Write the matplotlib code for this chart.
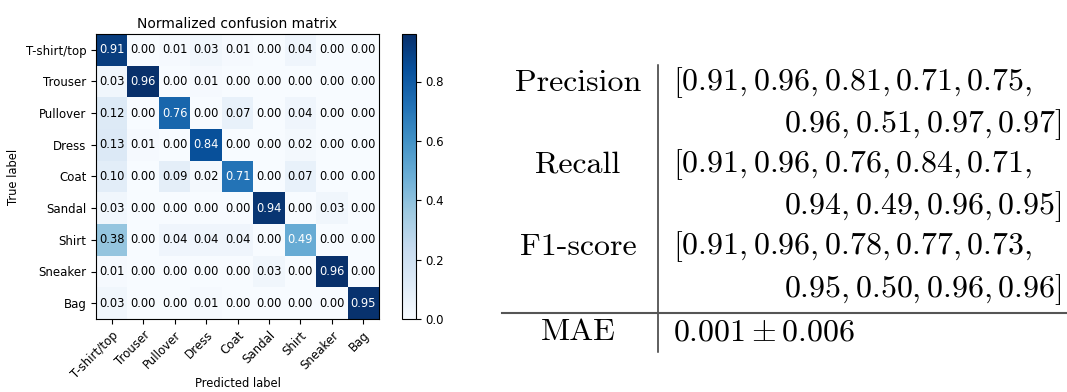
import numpy as np
import matplotlib
matplotlib.use('Agg')
import matplotlib.pyplot as plt
from matplotlib.lines import Line2D

CLASSES = ['T-shirt/top', 'Trouser', 'Pullover', 'Dress', 'Coat',
           'Sandal', 'Shirt', 'Sneaker', 'Bag']

CM = np.array([
    [0.91, 0.00, 0.01, 0.03, 0.01, 0.00, 0.04, 0.00, 0.00],
    [0.03, 0.96, 0.00, 0.01, 0.00, 0.00, 0.00, 0.00, 0.00],
    [0.12, 0.00, 0.76, 0.00, 0.07, 0.00, 0.04, 0.00, 0.00],
    [0.13, 0.01, 0.00, 0.84, 0.00, 0.00, 0.02, 0.00, 0.00],
    [0.10, 0.00, 0.09, 0.02, 0.71, 0.00, 0.07, 0.00, 0.00],
    [0.03, 0.00, 0.00, 0.00, 0.00, 0.94, 0.00, 0.03, 0.00],
    [0.38, 0.00, 0.04, 0.04, 0.04, 0.00, 0.49, 0.00, 0.00],
    [0.01, 0.00, 0.00, 0.00, 0.00, 0.03, 0.00, 0.96, 0.00],
    [0.03, 0.00, 0.00, 0.01, 0.00, 0.00, 0.00, 0.00, 0.95],
])

PRECISION = [0.91, 0.96, 0.81, 0.71, 0.75, 0.96, 0.51, 0.97, 0.97]
RECALL = [0.91, 0.96, 0.76, 0.84, 0.71, 0.94, 0.49, 0.96, 0.95]
F1 = [0.91, 0.96, 0.78, 0.77, 0.73, 0.95, 0.50, 0.96, 0.96]
MAE_MEAN, MAE_STD = 0.001, 0.006

plt.rcParams['mathtext.fontset'] = 'cm'

W, H = 1067, 392
fig = plt.figure(figsize=(W / 100, H / 100), dpi=100)


def fx(px):
    return px / W


def fy(py):
    return 1 - py / H


# confusion matrix
ax = fig.add_axes([fx(96), fy(319), fx(379) - fx(96), fy(34) - fy(319)])
im = ax.imshow(CM, cmap='Blues', interpolation='nearest', aspect='auto')
ax.set_title('Normalized confusion matrix', fontsize=10, pad=4)
ticks = np.arange(len(CLASSES))
ax.set_xticks(ticks)
ax.set_xticklabels(CLASSES, rotation=45, ha='right', rotation_mode='anchor', fontsize=8.5)
ax.set_yticks(ticks)
ax.set_yticklabels(CLASSES, fontsize=8.5)
ax.set_ylabel('True label', fontsize=8.3)
ax.set_xlabel('Predicted label', fontsize=8.3, labelpad=-3)
thresh = CM.max() / 2.
for i in range(CM.shape[0]):
    for j in range(CM.shape[1]):
        ax.text(j, i, f'{CM[i, j]:.2f}', ha='center', va='center', fontsize=8.3,
                color='white' if CM[i, j] > thresh else 'black')

cax = fig.add_axes([fx(402), fy(319), fx(416) - fx(402), fy(34) - fy(319)])
cb = fig.colorbar(im, cax=cax)
cb.set_ticks([0.0, 0.2, 0.4, 0.6, 0.8])
cb.ax.tick_params(labelsize=8.5)


# metrics table
def fmt(vals):
    return ','.join(f'{v:.2f}' for v in vals)


label_x = fx(578)
left_x = fx(673)
right_x = fx(1061)
fs = 23

rows = [
    ('Precision', PRECISION, 83, 125),
    ('Recall', RECALL, 165, 207),
    ('F1-score', F1, 247, 290),
]
for name, vals, y1, y2 in rows:
    fig.text(label_x, fy(y1), name, ha='center', va='center', fontsize=fs, family='cmr10')
    fig.text(left_x, fy(y1), '$[' + fmt(vals[:5]) + ',$', ha='left', va='center', fontsize=fs)
    fig.text(right_x, fy(y2), '$' + fmt(vals[5:]) + ']$', ha='right', va='center', fontsize=fs)

fig.text(label_x, fy(332), 'MAE', ha='center', va='center', fontsize=fs, family='cmr10')
fig.text(left_x, fy(332), f'${MAE_MEAN:.3f}\\pm{MAE_STD:.3f}$', ha='left', va='center', fontsize=fs)

fig.add_artist(Line2D([fx(658), fx(658)], [fy(65), fy(352)], color='#333333', lw=1.1))
fig.add_artist(Line2D([fx(502), fx(1067)], [fy(313), fy(313)], color='#555555', lw=1.5))

fig.savefig('out.png', dpi=100)
